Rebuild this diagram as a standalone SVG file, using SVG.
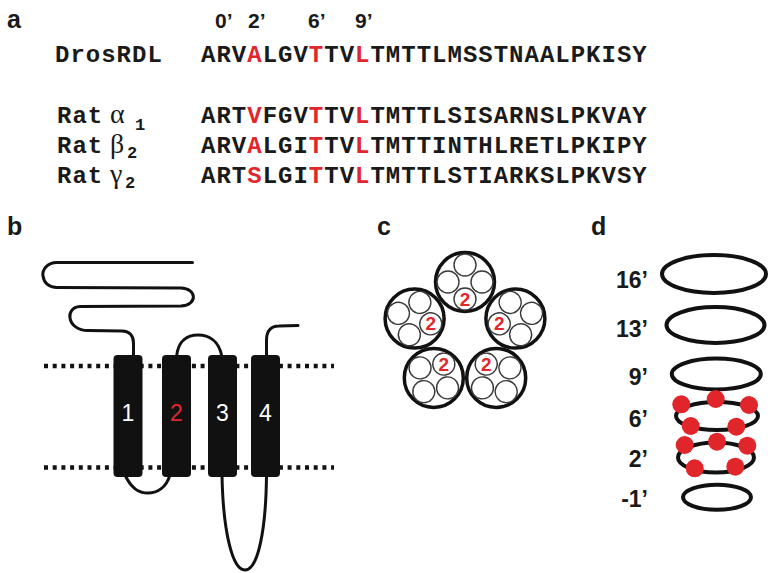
<svg xmlns="http://www.w3.org/2000/svg" width="768" height="573" viewBox="0 0 768 573">
  <style>
    .panel { font-family: "Liberation Sans", Arial, sans-serif; font-weight: bold; font-size: 25px; fill: #1a1a1a; }
    .pos { font-family: "Liberation Sans", Arial, sans-serif; font-weight: bold; font-size: 21px; fill: #1a1a1a; }
    .seq { font-family: "Liberation Mono", "Courier New", monospace; font-weight: bold; font-size: 24px; letter-spacing: 1px; fill: #1a1a1a; }
    .greek { font-family: "Liberation Serif", "Times New Roman", serif; font-size: 28px; fill: #1a1a1a; }
    .sub { font-family: "Liberation Mono", "Courier New", monospace; font-weight: bold; font-size: 17px; fill: #1a1a1a; }
    .strand { fill: none; stroke: #111; stroke-width: 3; stroke-linecap: round; stroke-linejoin: round; }
    .membrane { fill: none; stroke: #111; stroke-width: 4.5; stroke-dasharray: 4 4.7; }
    .helix { fill: #111; }
    .tmnum { font-family: "Liberation Sans", Arial, sans-serif; font-size: 23px; text-anchor: middle; fill: #fff; }
    .subunit { fill: #fff; stroke: #111; stroke-width: 3.5; }
    .tm { fill: #fff; stroke: #3a3a3a; stroke-width: 1.4; }
    .m2 { font-family: "Liberation Sans", Arial, sans-serif; font-weight: bold; font-size: 19px; text-anchor: middle; fill: #e3262b; }
    .ring { fill: none; stroke: #111; stroke-width: 4; }
    .dot { fill: #e0262b; }
    .lvl { font-family: "Liberation Sans", Arial, sans-serif; font-weight: bold; font-size: 23px; text-anchor: end; fill: #1a1a1a; }
    .r, .tmnum.r { fill: #e3262b; }
  </style>

  <!-- panel letters -->
  <text class="panel" x="7" y="28">a</text>
  <text class="panel" x="7" y="235">b</text>
  <text class="panel" x="377" y="235">c</text>
  <text class="panel" x="591" y="235">d</text>

  <!-- a: M2 sequence alignment -->
  <g id="alignment">
    <text class="pos" x="215" y="28">0’</text>
    <text class="pos" x="248" y="28">2’</text>
    <text class="pos" x="308" y="28">6’</text>
    <text class="pos" x="355" y="28">9’</text>

    <text class="seq" x="55" y="62">DrosRDL</text>
    <text class="seq" x="201" y="62">ARV<tspan class="r">A</tspan>LGV<tspan class="r">T</tspan>TV<tspan class="r">L</tspan>TMTTLMSSTNAALPKISY</text>

    <text class="seq" x="57" y="123">Rat</text>
    <text class="greek" x="110" y="123">α</text>
    <text class="sub" x="135" y="130">1</text>
    <text class="seq" x="201" y="123">ART<tspan class="r">V</tspan>FGV<tspan class="r">T</tspan>TV<tspan class="r">L</tspan>TMTTLSISARNSLPKVAY</text>

    <text class="seq" x="57" y="153">Rat</text>
    <text class="greek" x="110" y="153">β</text>
    <text class="sub" x="127" y="158">2</text>
    <text class="seq" x="201" y="153">ARV<tspan class="r">A</tspan>LGI<tspan class="r">T</tspan>TV<tspan class="r">L</tspan>TMTTINTHLRETLPKIPY</text>

    <text class="seq" x="57" y="183">Rat</text>
    <text class="greek" x="110" y="183">γ</text>
    <text class="sub" x="125" y="188">2</text>
    <text class="seq" x="201" y="183">ART<tspan class="r">S</tspan>LGI<tspan class="r">T</tspan>TV<tspan class="r">L</tspan>TMTTLSTIARKSLPKVSY</text>
  </g>

  <!-- b: membrane topology -->
  <g id="membrane">
    <line class="membrane" x1="44" y1="366" x2="334" y2="366"/>
    <line class="membrane" x1="44" y1="467.5" x2="334" y2="467.5"/>
  </g>
  <g id="loops">
    <path class="strand" d="M 192.5 262.5 L 57 262.5 C 47 262.5 42 270 43 276 C 44 283 49 287.5 57 287.5 L 181 288 C 197 288.5 198 305 181 306 L 80 306.5 C 72 307 69 313 70 318 C 71 325 78 330.5 88 330.5 L 122 331 C 130 331 133.5 336 133.5 343 L 133.5 357"/>
    <path class="strand" d="M 176.5 357 C 178 340 188 335 198 335 C 208 335 219 340 222 357"/>
    <path class="strand" d="M 266.5 357 L 266.5 340 C 266.5 331 271 326 279 326 L 298 325.5"/>
    <path class="strand" d="M 125 475 C 132 490 140 493 148 493 C 157 493 166 488 170 475"/>
    <path class="strand" d="M 222 475 C 223 530 232 570 245 570 C 258 570 266 530 266.5 475"/>
  </g>
  <g id="tm1"><rect class="helix" x="113.5" y="355" width="29" height="122" rx="4"/><text class="tmnum" x="128" y="421">1</text></g>
  <g id="tm2"><rect class="helix" x="162" y="355" width="29" height="122" rx="4"/><text class="tmnum r" x="176.5" y="421">2</text></g>
  <g id="tm3"><rect class="helix" x="208" y="355" width="29" height="122" rx="4"/><text class="tmnum" x="222.5" y="421">3</text></g>
  <g id="tm4"><rect class="helix" x="251" y="355" width="29" height="122" rx="4"/><text class="tmnum" x="265.5" y="421">4</text></g>

  <!-- c: pentameric arrangement, M2 lining the pore -->
  <defs>
    <g id="tms">
      <circle class="tm" cx="17" cy="0" r="11"/>
      <circle class="tm" cx="0" cy="17" r="11"/>
      <circle class="tm" cx="-17" cy="0" r="11"/>
      <circle class="tm" cx="0" cy="-17" r="11"/>
    </g>
  </defs>
  <g id="subunit-top">
    <circle class="subunit" cx="465" cy="282" r="29.5"/>
    <use href="#tms" transform="translate(465 282) rotate(90)"/>
    <text class="m2" x="465" y="305.5">2</text>
  </g>
  <g id="subunit-right">
    <circle class="subunit" cx="515.4" cy="318.6" r="29.5"/>
    <use href="#tms" transform="translate(515.4 318.6) rotate(162)"/>
    <text class="m2" x="499.2" y="330.4">2</text>
  </g>
  <g id="subunit-bottom-right">
    <circle class="subunit" cx="496.2" cy="377.9" r="29.5"/>
    <use href="#tms" transform="translate(496.2 377.9) rotate(234)"/>
    <text class="m2" x="486.2" y="370.6">2</text>
  </g>
  <g id="subunit-bottom-left">
    <circle class="subunit" cx="433.8" cy="377.9" r="29.5"/>
    <use href="#tms" transform="translate(433.8 377.9) rotate(306)"/>
    <text class="m2" x="443.8" y="370.6">2</text>
  </g>
  <g id="subunit-left">
    <circle class="subunit" cx="414.6" cy="318.6" r="29.5"/>
    <use href="#tms" transform="translate(414.6 318.6) rotate(18)"/>
    <text class="m2" x="430.8" y="330.4">2</text>
  </g>

  <!-- d: pore-lining rings -->
  <g id="ring-16">
    <text class="lvl" x="648" y="288">16’</text>
    <ellipse class="ring" cx="714" cy="274" rx="52" ry="19"/>
  </g>
  <g id="ring-13">
    <text class="lvl" x="648" y="337">13’</text>
    <ellipse class="ring" cx="715.5" cy="325" rx="49" ry="18"/>
  </g>
  <g id="ring-9">
    <text class="lvl" x="648" y="385">9’</text>
    <ellipse class="ring" cx="716.3" cy="374" rx="44.5" ry="15.5"/>
  </g>
  <g id="ring-6">
    <text class="lvl" x="648" y="427">6’</text>
    <ellipse class="ring" cx="717" cy="416" rx="41" ry="14"/>
    <circle class="dot" cx="681.3" cy="404.3" r="9"/>
    <circle class="dot" cx="715.7" cy="399" r="9"/>
    <circle class="dot" cx="749" cy="405" r="9"/>
    <circle class="dot" cx="690.7" cy="426" r="9"/>
    <circle class="dot" cx="736.3" cy="426.7" r="9"/>
  </g>
  <g id="ring-2">
    <text class="lvl" x="648" y="467">2’</text>
    <ellipse class="ring" cx="716" cy="457.5" rx="38" ry="15"/>
    <circle class="dot" cx="684.7" cy="445" r="9"/>
    <circle class="dot" cx="717" cy="441.7" r="9"/>
    <circle class="dot" cx="747.3" cy="445.7" r="9"/>
    <circle class="dot" cx="694.7" cy="468.3" r="9"/>
    <circle class="dot" cx="735.3" cy="466.7" r="9"/>
  </g>
  <g id="ring-m1">
    <text class="lvl" x="648" y="507">-1’</text>
    <ellipse class="ring" cx="717" cy="497.3" rx="34" ry="12.5"/>
  </g>
</svg>
